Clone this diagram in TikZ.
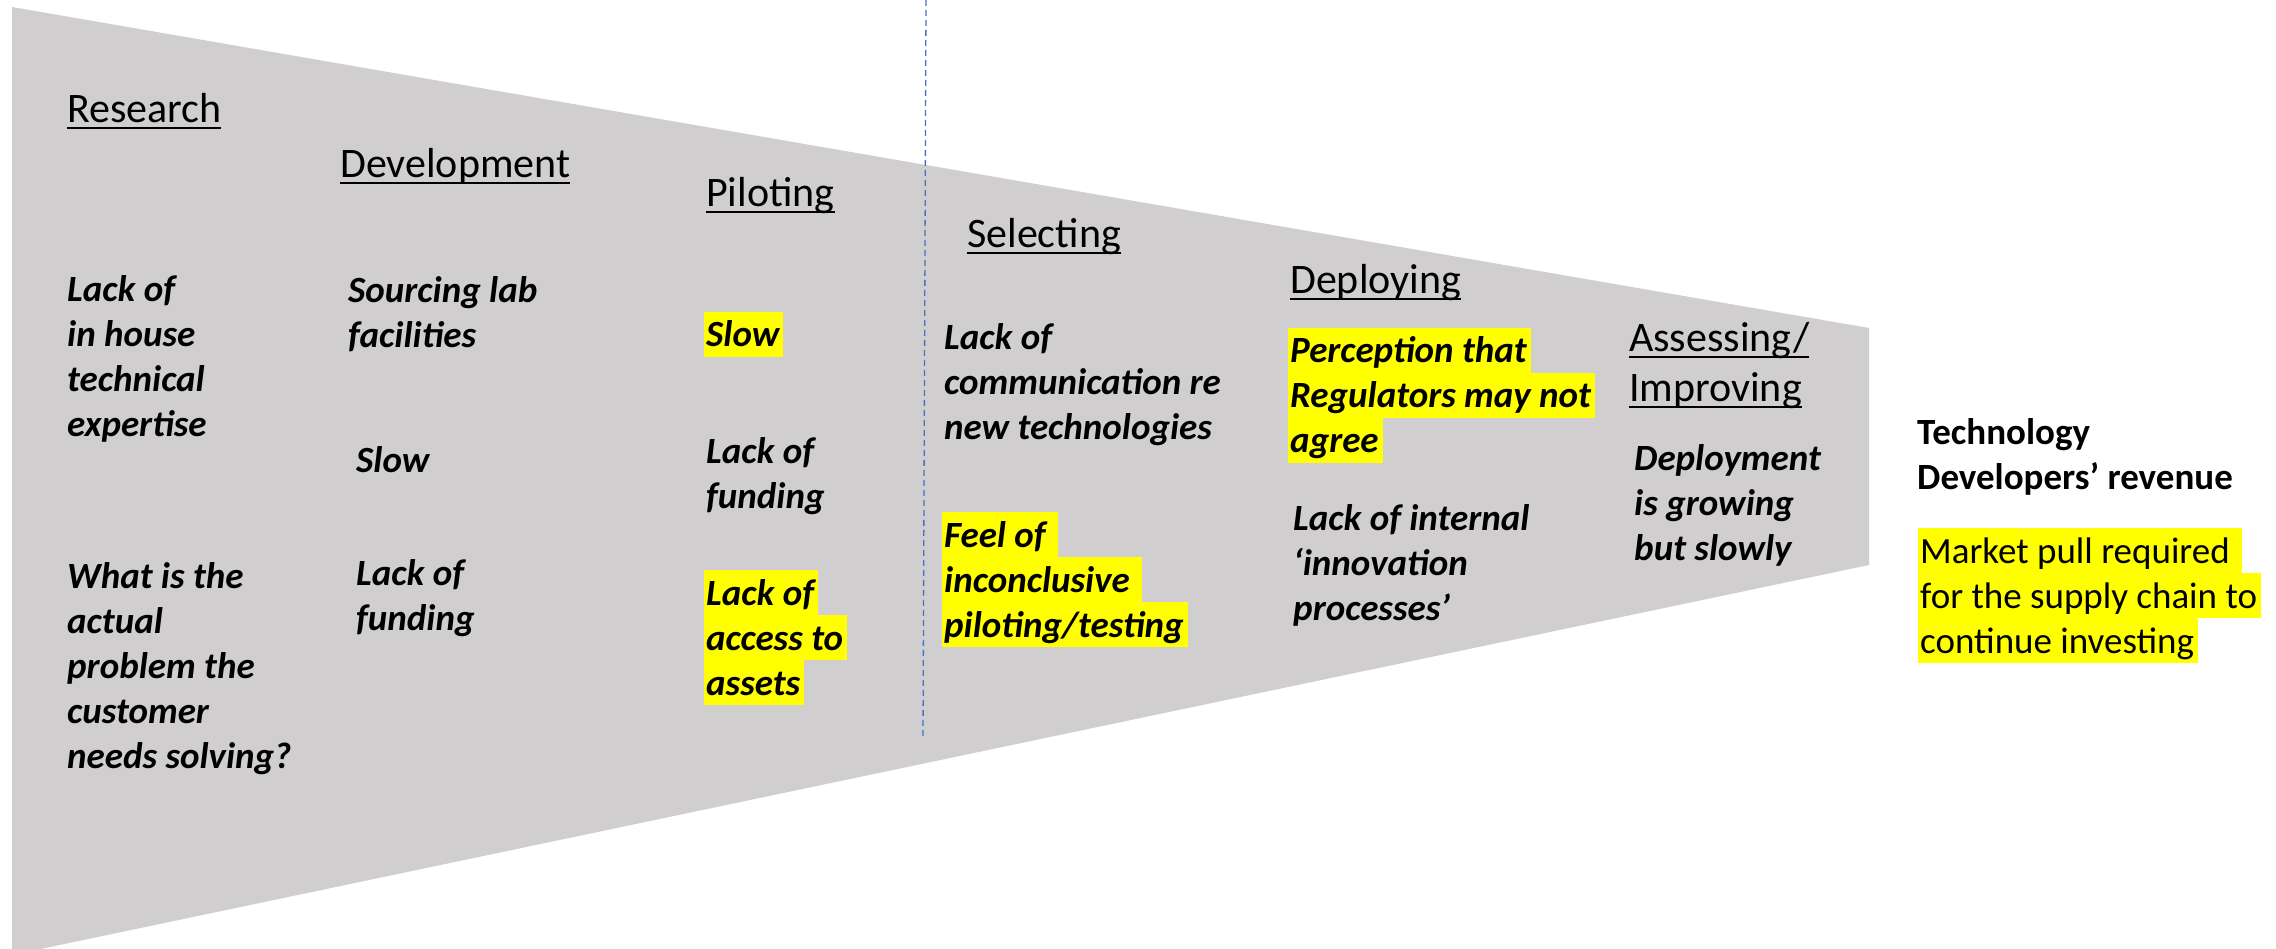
\documentclass[tikz,border=0pt]{standalone}
\usepackage{fontspec}
\setmainfont{Carlito}
\definecolor{funnelgray}{RGB}{208,206,206}
\definecolor{dashblue}{RGB}{68,114,196}
\definecolor{hlyellow}{RGB}{255,255,0}
\setlength{\fboxsep}{0pt}
\newcommand\stk[2]{\vtop{\baselineskip=#1\lineskiplimit=-100pt\lineskip=0pt\halign{##\hfil\cr#2\crcr}}}
\newcommand\hlt[1]{\kern-2pt\colorbox{hlyellow}{\rule[-10pt]{0pt}{45pt}\kern2pt#1\kern4pt}}
\newcommand\myul[1]{\setbox0=\hbox{#1}\rlap{\rule[-6.5pt]{\wd0}{2.6pt}}\box0}
\tikzset{
  funnel/.style={fill=funnelgray},
  sep/.style={draw=dashblue, line width=1.3pt, dash pattern=on 6pt off 4pt},
  head/.style={font=\fontsize{42}{50}\selectfont, inner sep=0pt, anchor=base west},
  issue/.style={font=\fontsize{37}{45}\selectfont\bfseries\itshape, inner sep=0pt, anchor=base west},
  plain/.style={font=\fontsize{37}{45}\selectfont, inner sep=0pt, anchor=base west},
  plainbf/.style={font=\fontsize{37}{45}\selectfont\bfseries, inner sep=0pt, anchor=base west}
}
\begin{document}
\begin{tikzpicture}[x=1pt,y=-1pt]
\useasboundingbox (0,0) rectangle (2276,949);
\clip (0,0) rectangle (2276,949);
% funnel
\fill[funnel] (12,7) -- (1869,328) -- (1869,565) -- (12,955) -- cycle;
% separator
\coordinate (septop) at (926,0);
\coordinate (sepbot) at (923,738);
\draw[sep] (septop) -- (sepbot);
% stage headings
\node[head] (hres) at (67,123) {\myul{Research}};
\node[head] (hdev) at (340,178) {\myul{Development}};
\node[head] (hpil) at (706,207) {\myul{Piloting}};
\node[head] (hsel) at (967,248) {\myul{Selecting}};
\node[head] (hdep) at (1290,294) {\myul{Deploying}};
\node[head] (hass) at (1629,352) {\stk{50pt}{\myul{Assessing/}\cr\myul{Improving}}};
% research
\node[issue] (r1) at (67,302) {\stk{45pt}{Lack of\cr in house\cr technical\cr expertise}};
\node[issue] (r2) at (67,588) {\stk{45pt}{What is the\cr actual\cr problem the\cr customer\cr needs solving?}};
% development
\node[issue] (d1) at (348,303) {\stk{45pt}{Sourcing lab\cr facilities}};
\node[issue] (d2) at (356,472) {Slow};
\node[issue] (d3) at (356,585) {\stk{45pt}{Lack of\cr funding}};
% piloting
\node[issue] (p1) at (706,347) {\hlt{Slow}};
\node[issue] (p2) at (706,463) {\stk{45pt}{Lack of\cr funding}};
\node[issue] (p3) at (706,605) {\stk{45pt}{\hlt{Lack of}\cr\hlt{access to}\cr\hlt{assets}}};
% selecting
\node[issue] (s1) at (944,350) {\stk{45pt}{Lack of\cr communication re\cr new technologies}};
\node[issue] (s2) at (944,547) {\stk{45pt}{\hlt{Feel of\ }\cr\hlt{inconclusive\ }\cr\hlt{piloting/testing}}};
% deploying
\node[issue] (e1) at (1290,363) {\stk{45pt}{\hlt{Perception that}\cr\hlt{Regulators may not}\cr\hlt{agree}}};
\node[issue] (e2) at (1293,530) {\stk{45pt}{Lack of internal\cr ‘innovation\cr processes’}};
% assessing
\node[issue] (a1) at (1634,470) {\stk{45pt}{Deployment\cr is growing\cr but slowly}};
% revenue
\node[plainbf] (t1) at (1917,444) {\stk{46pt}{Technology\cr Developers’ revenue}};
\node[plain] (t2) at (1920,563) {\stk{45pt}{\hlt{Market pull required\ }\cr\hlt{for the supply chain to}\cr\hlt{continue investing}}};
\end{tikzpicture}
\end{document}
